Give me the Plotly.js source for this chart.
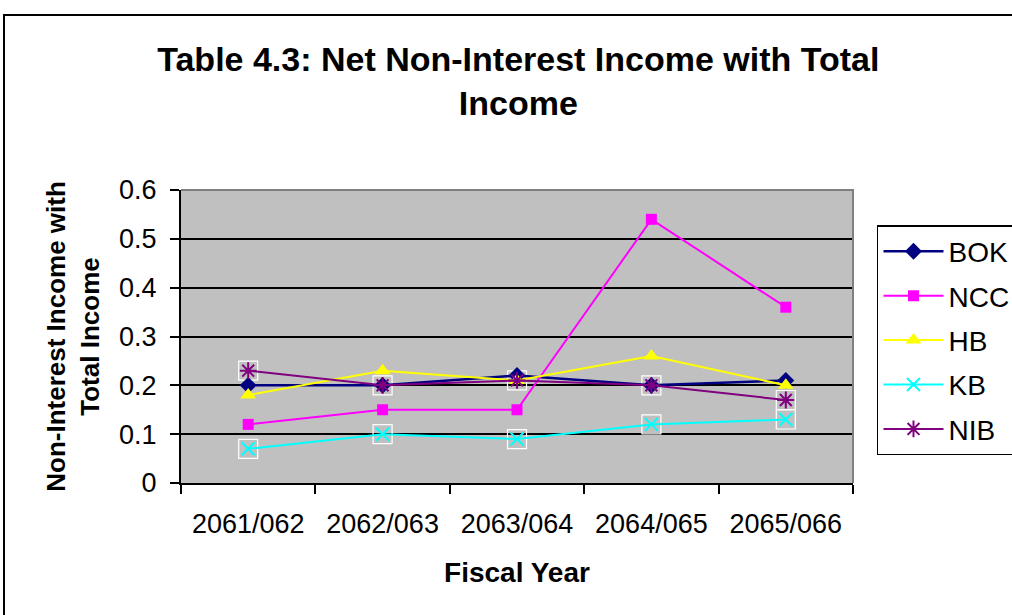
<!DOCTYPE html>
<html>
<head>
<meta charset="utf-8">
<script src="https://cdn.plot.ly/plotly-3.0.1.min.js"></script>
<style>
html,body{margin:0;padding:0;background:#fff;}
#chart{width:1012px;height:615px;}
</style>
</head>
<body>
<div id="chart"></div>
<script>
var years = ["2061/062", "2062/063", "2063/064", "2064/065", "2065/066"];
var bok = [0.20, 0.20, 0.22, 0.20, 0.21];
var ncc = [0.12, 0.15, 0.15, 0.54, 0.36];
var hb  = [0.18, 0.23, 0.21, 0.26, 0.20];
var kb  = [0.07, 0.10, 0.09, 0.12, 0.13];
var nib = [0.23, 0.20, 0.21, 0.20, 0.17];
var seriesNames = ["BOK", "NCC", "HB", "KB", "NIB"];
var yTickVals = [0, 0.1, 0.2, 0.3, 0.4, 0.5, 0.6];

var FONT = '"Liberation Sans", Arial, sans-serif';

function boxTrace(vals){
  return {x: years, y: vals, type: 'scatter', mode: 'markers', showlegend: false, hoverinfo: 'skip',
    marker: {symbol: 'square-open', size: 19, color: '#ffffff', line: {width: 1.2, color: '#ffffff'}}};
}

var traces = [
  boxTrace(kb),
  boxTrace(nib),
  {x: years, y: bok, name: seriesNames[0], legendgroup: 'g1', type: 'scatter', mode: 'lines+markers',
   line: {color: '#000080', width: 2.5}, marker: {symbol: 'diamond', size: 13, color: '#000080'}},
  {x: years, y: ncc, name: seriesNames[1], legendgroup: 'g2', type: 'scatter', mode: 'lines+markers',
   line: {color: '#ff00ff', width: 2}, marker: {symbol: 'square', size: 11, color: '#ff00ff'}},
  {x: years, y: hb, name: seriesNames[2], legendgroup: 'g3', type: 'scatter', mode: 'lines+markers',
   line: {color: '#ffff00', width: 2}, marker: {symbol: 'triangle-up', size: 14, color: '#ffff00'}},
  {x: years, y: kb, name: seriesNames[3], legendgroup: 'g4', type: 'scatter', mode: 'lines+markers',
   line: {color: '#00ffff', width: 2}, marker: {symbol: 'x-thin-open', size: 13, color: '#00ffff', line: {width: 2, color: '#00ffff'}}},
  {x: years, y: nib, name: seriesNames[4], legendgroup: 'g5', type: 'scatter', mode: 'lines+markers',
   line: {color: '#800080', width: 2}, marker: {symbol: 'asterisk-open', size: 14, color: '#800080', line: {width: 2, color: '#800080'}}}
];

var layout = {
  width: 1012, height: 615,
  margin: {l: 181, r: 159, t: 190, b: 132, pad: 0, autoexpand: false},
  paper_bgcolor: '#ffffff',
  plot_bgcolor: '#c0c0c0',
  font: {family: FONT, color: '#000000', size: 24},
  title: {
    text: '<b>Table 4.3: Net Non-Interest Income with Total<br>Income</b>',
    font: {family: FONT, size: 34, color: '#000'},
    x: 0.502, xref: 'paper', xanchor: 'center',
    y: 0.885, yref: 'container', yanchor: 'top'
  },
  xaxis: {
    type: 'category',
    range: [-0.5, 4.5],
    tickson: 'boundaries',
    ticks: 'outside', ticklen: 9, tickwidth: 2, tickcolor: '#000',
    showline: true, linecolor: '#000', linewidth: 2,
    showgrid: false, zeroline: false,
    tickfont: {family: FONT, size: 27, color: '#000'},
    ticklabelstandoff: 16,
    title: {text: '<b>Fiscal Year</b>', font: {family: FONT, size: 28, color: '#000'}, standoff: 24},
    automargin: false, fixedrange: true
  },
  yaxis: {
    range: [0, 0.6],
    tickvals: yTickVals,
    ticktext: yTickVals.map(function(v){ return String(v); }),
    ticks: 'outside', ticklen: 9, tickwidth: 2, tickcolor: '#000',
    showline: true, linecolor: '#000', linewidth: 2,
    showgrid: true, gridcolor: '#000', gridwidth: 2,
    zeroline: false,
    tickfont: {family: FONT, size: 27, color: '#000'},
    ticklabelstandoff: 8,
    title: {text: '<b>Non-Interest Income with<br>Total Income</b>', font: {family: FONT, size: 26, color: '#000'}, standoff: 12},
    automargin: false, fixedrange: true
  },
  legend: {
    xref: 'container', yref: 'container',
    x: 0.8666, xanchor: 'left', y: 0.634, yanchor: 'top',
    bgcolor: '#ffffff', bordercolor: '#000', borderwidth: 1.5,
    font: {family: FONT, size: 28, color: '#000'},
    itemwidth: 60,
    tracegroupgap: 5,
    traceorder: 'grouped'
  },
  shapes: [
    {type: 'path', xref: 'paper', yref: 'paper', path: 'M0,1 L1,1 L1,0', line: {color: '#808080', width: 2}, layer: 'above'},
    {type: 'rect', xref: 'paper', yref: 'paper', x0: -0.2634, x1: 1.6, y0: -1, y1: 1.597, line: {color: '#000', width: 2}, layer: 'below'}
  ],
  showlegend: true
};

Plotly.newPlot('chart', traces, layout, {displayModeBar: false, staticPlot: true});
</script>
</body>
</html>
